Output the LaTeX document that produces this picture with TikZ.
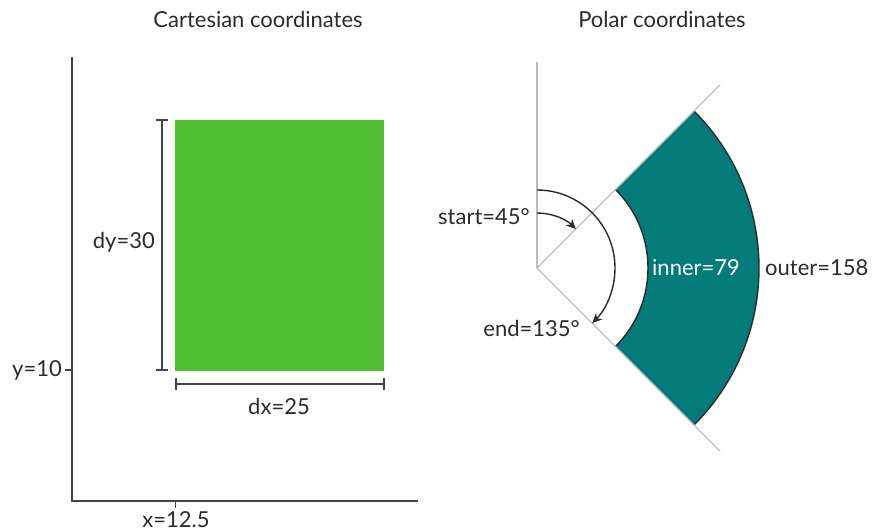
\documentclass[tikz,border=0pt]{standalone}
\usepackage{fontspec}
\setmainfont{Lato}
\usetikzlibrary{arrows.meta,calc}
\definecolor{ink}{HTML}{2B2B2B}
\definecolor{axisc}{HTML}{444444}
\definecolor{guide}{HTML}{BBBBBB}
\definecolor{rectgreen}{HTML}{53BF33}
\definecolor{teal}{HTML}{037C79}
\tikzset{
  lbl/.style={font=\fontsize{22}{24}\selectfont, text=ink, inner sep=0pt},
  axisline/.style={draw=axisc, line width=1.4pt},
  dimline/.style={draw=axisc, line width=1.4pt},
  guideline/.style={draw=guide, line width=1.4pt},
  arcline/.style={draw=ink, line width=1.4pt},
  turn/.style={draw=ink, line width=1.4pt, -{Stealth[length=10pt,width=9pt]}},
}
\begin{document}
\begin{tikzpicture}[x=1pt,y=1pt]
\useasboundingbox (0,0) rectangle (875,531);
\fill[white] (0,0) rectangle (875,531);
% titles
\node[lbl] (t1) at (258,512) {Cartesian coordinates};
\node[lbl] (t2) at (662,512) {Polar coordinates};
% ---- Cartesian
\coordinate (ytop) at (72,474);
\coordinate (orig) at (72,30);
\coordinate (xend) at (418,30);
\draw[axisline] (ytop) -- (orig) -- (xend);
\coordinate (xt1) at (175.5,30);
\coordinate (xt2) at (175.5,23);
\draw[axisline] (xt1) -- (xt2);
\node[lbl] (xlab) at (176,11) {x=12.5};
\coordinate (yt1) at (72,161);
\coordinate (yt2) at (65,161);
\draw[axisline] (yt1) -- (yt2);
\node[lbl, anchor=east] (ylab) at (62,161) {y=10};
\fill[rectgreen] (175,160) rectangle (384,411);
% dy bracket
\coordinate (dyb) at (162,161);
\coordinate (dyt) at (162,411);
\draw[dimline] (dyb) -- (dyt);
\draw[dimline] (156,161) -- (168,161);
\draw[dimline] (156,411) -- (168,411);
\node[lbl, anchor=east] (dylab) at (155,289) {dy=30};
% dx bracket
\coordinate (dxl) at (176,147);
\coordinate (dxr) at (384,147);
\draw[dimline] (dxl) -- (dxr);
\draw[dimline] (176,141) -- (176,153);
\draw[dimline] (384,141) -- (384,153);
\node[lbl] (dxlab) at (279,125) {dx=25};
% ---- Polar
\coordinate (C) at (537,263);
\fill[teal] ($(C)+(45:111)$) arc[start angle=45,end angle=-45,radius=111]
  -- ($(C)+(-45:222)$) arc[start angle=-45,end angle=45,radius=222] -- cycle;
\draw[arcline] ($(C)+(45:111)$) arc[start angle=45,end angle=-45,radius=111];
\draw[arcline] ($(C)+(45:222)$) arc[start angle=45,end angle=-45,radius=222];
\coordinate (up) at (537,469);
\coordinate (r45) at ($(C)+(45:259)$);
\coordinate (r135) at ($(C)+(-45:259)$);
\draw[guideline] (up) -- (C);
\draw[guideline] (r45) -- (C) -- (r135);
\draw[turn] ($(C)+(90:55)$) arc[start angle=90,end angle=45,radius=55];
\draw[turn] ($(C)+(90:78)$) arc[start angle=90,end angle=-45,radius=78];
\node[lbl, anchor=east] (slab) at (530,314) {start=45°};
\node[lbl, anchor=east] (elab) at (580,203) {end=135°};
\node[lbl, anchor=west, text=white] (ilab) at (652,263) {inner=79};
\node[lbl, anchor=west] (olab) at (765,263) {outer=158};
\end{tikzpicture}
\end{document}
